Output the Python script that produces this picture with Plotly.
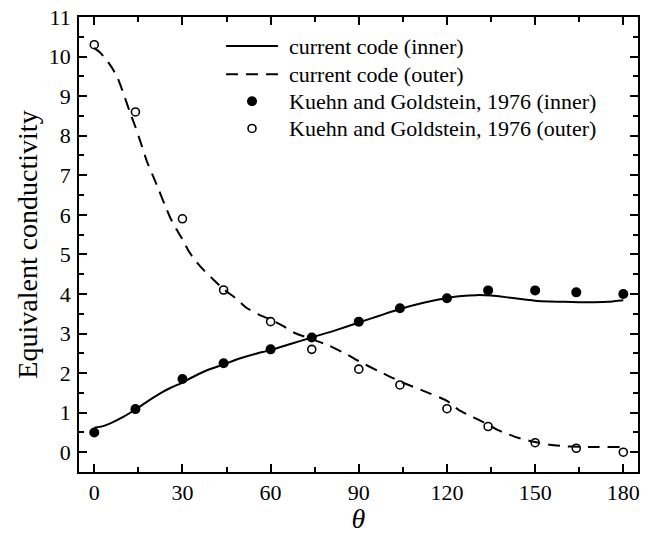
import plotly.graph_objects as go

# Simulated equivalent conductivity (current code)
theta_inner_sim = [0, 3, 6, 10, 14, 18, 22, 26, 30, 34, 38, 44, 50, 55, 60, 67, 74, 82, 90, 97,
                   104, 112, 120, 125, 130, 135, 140, 145, 150, 155, 160, 165, 170, 175, 180]
k_inner_sim = [0.62, 0.66, 0.75, 0.90, 1.08, 1.28, 1.47, 1.63, 1.76, 1.92, 2.06, 2.22, 2.38, 2.49,
               2.58, 2.74, 2.90, 3.08, 3.28, 3.45, 3.62, 3.78, 3.90, 3.95, 3.97, 3.96, 3.92, 3.87,
               3.83, 3.81, 3.80, 3.79, 3.79, 3.80, 3.84]

theta_outer_sim = [0, 2, 4, 6, 8, 10, 12, 14, 16, 18, 20, 22, 24, 26, 28, 30, 32, 34, 37, 40, 44,
                   48, 52, 56, 60, 64, 68, 74, 80, 86, 90, 97, 104, 112, 120, 124, 127, 131, 134,
                   137, 140, 144, 147, 150, 155, 160, 165, 170, 180]
k_outer_sim = [10.22, 10.10, 9.93, 9.72, 9.45, 9.05, 8.62, 8.22, 7.78, 7.33, 6.98, 6.62, 6.25,
               5.90, 5.63, 5.38, 5.10, 4.88, 4.62, 4.40, 4.12, 3.90, 3.64, 3.48, 3.35, 3.20, 3.02,
               2.86, 2.69, 2.47, 2.30, 2.04, 1.79, 1.55, 1.30, 1.07, 0.95, 0.81, 0.70, 0.57, 0.48,
               0.37, 0.31, 0.26, 0.19, 0.15, 0.14, 0.13, 0.13]

# Experimental data, Kuehn and Goldstein (1976)
theta_exp = [0, 14, 30, 44, 60, 74, 90, 104, 120, 134, 150, 164, 180]
k_inner_exp = [0.50, 1.09, 1.85, 2.25, 2.60, 2.90, 3.30, 3.64, 3.89, 4.09, 4.09, 4.04, 4.00]
k_outer_exp = [10.30, 8.60, 5.90, 4.10, 3.30, 2.60, 2.10, 1.70, 1.10, 0.65, 0.24, 0.10, 0.00]

series_names = ["current code (inner)", "current code (outer)",
                "Kuehn and Goldstein, 1976 (inner)", "Kuehn and Goldstein, 1976 (outer)"]

x_ticks = [0, 30, 60, 90, 120, 150, 180]
y_ticks = list(range(0, 12))

FONT = "Liberation Serif"
DASH = "12px,8px"

fig = go.Figure()
fig.add_trace(go.Scatter(x=theta_inner_sim, y=k_inner_sim, mode="lines", name=series_names[0],
                         line=dict(color="black", width=2, shape="spline", smoothing=0.6)))
fig.add_trace(go.Scatter(x=theta_outer_sim, y=k_outer_sim, mode="lines", name=series_names[1],
                         line=dict(color="black", width=2, dash=DASH,
                                   shape="spline", smoothing=0.6)))
fig.add_trace(go.Scatter(x=theta_exp, y=k_inner_exp, mode="markers", name=series_names[2],
                         marker=dict(symbol="circle", size=10, color="black")))
fig.add_trace(go.Scatter(x=theta_exp, y=k_outer_exp, mode="markers", name=series_names[3],
                         marker=dict(symbol="circle-open", size=8, color="black",
                                     line=dict(width=1.6, color="black"))))
fig.update_traces(showlegend=False)

axis_common = dict(
    showline=True, linecolor="black", linewidth=1.8, mirror="allticks",
    ticks="inside", ticklen=8, tickwidth=1.5, tickcolor="black",
    showgrid=False, zeroline=False, automargin=False,
    tickfont=dict(family=FONT, size=22, color="black"),
)

fig.update_xaxes(range=[-5.2, 185], tickvals=x_ticks,
                 minor=dict(ticks="inside", dtick=15, tick0=0, ticklen=5, tickwidth=1.5,
                            tickcolor="black"),
                 title=dict(text="<i>θ</i>", font=dict(family=FONT, size=28, color="black"),
                            standoff=6),
                 **axis_common)
fig.update_yaxes(range=[-0.5, 11], tickvals=y_ticks,
                 minor=dict(ticks="inside", dtick=0.5, tick0=0, ticklen=5, tickwidth=1.5,
                            tickcolor="black"),
                 title=dict(text="Equivalent conductivity",
                            font=dict(family=FONT, size=28, color="black"), standoff=3),
                 ticklabelstandoff=2,
                 **axis_common)

# Key drawn in the upper part of the axes: sample line / marker plus label per row
row_y = [0.936, 0.874, 0.815, 0.755]
sample_x0, sample_x1, marker_x, text_x = 0.263, 0.356, 0.3095, 0.372
shapes = [
    dict(type="line", xref="paper", yref="paper", x0=sample_x0, x1=sample_x1,
         y0=row_y[0], y1=row_y[0], line=dict(color="black", width=2)),
    dict(type="line", xref="paper", yref="paper", x0=sample_x0, x1=sample_x1,
         y0=row_y[1], y1=row_y[1], line=dict(color="black", width=2, dash=DASH)),
    dict(type="circle", xref="paper", yref="paper", xsizemode="pixel", ysizemode="pixel",
         xanchor=marker_x, yanchor=row_y[2], x0=-5, x1=5, y0=-5, y1=5,
         fillcolor="black", line=dict(color="black", width=0)),
    dict(type="circle", xref="paper", yref="paper", xsizemode="pixel", ysizemode="pixel",
         xanchor=marker_x, yanchor=row_y[3], x0=-4, x1=4, y0=-4, y1=4,
         fillcolor="white", line=dict(color="black", width=1.6)),
]
annotations = [
    dict(text=name, xref="paper", yref="paper", x=text_x, y=yy, xanchor="left",
         yanchor="middle", showarrow=False, font=dict(family=FONT, size=22, color="black"))
    for name, yy in zip(series_names, row_y)
]

fig.update_layout(
    width=652, height=534,
    margin=dict(l=79, r=14, t=17, b=62),
    paper_bgcolor="white", plot_bgcolor="white",
    font=dict(family=FONT, color="black"),
    showlegend=False,
    shapes=shapes,
    annotations=annotations,
)

fig.write_html("out.html")
